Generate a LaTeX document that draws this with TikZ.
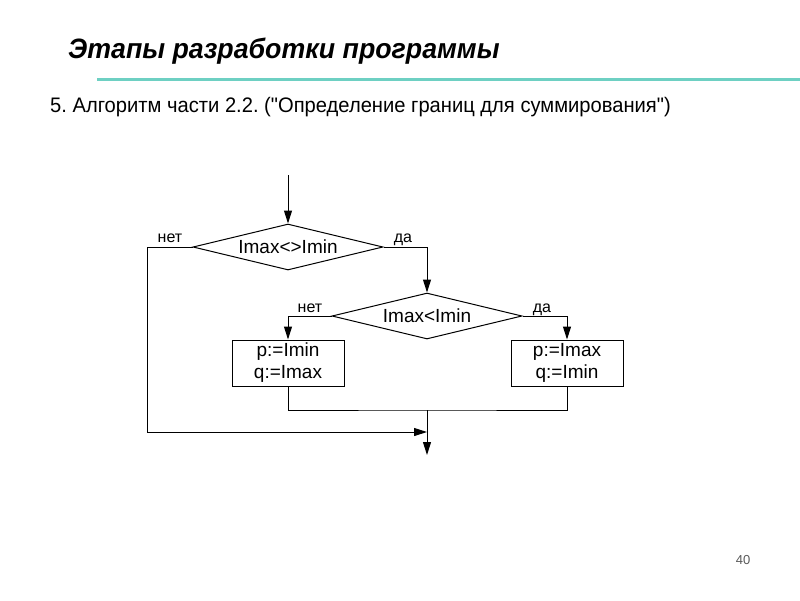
\documentclass[tikz,border=0pt]{standalone}
\usepackage{fontspec}
\setmainfont{Liberation Sans}
\newfontfamily\straightquotes{Liberation Sans}[Ligatures=TeXOff]
\usetikzlibrary{arrows.meta}
\usetikzlibrary{shapes.geometric}
\definecolor{ruleteal}{RGB}{110,208,195}
\frenchspacing
\tikzset{
	cond/.style={draw,diamond,aspect=4.1,inner sep=0pt,line width=1pt,minimum width=190pt,minimum height=46pt,font=\fontsize{19}{21}\selectfont},
	act/.style={draw,rectangle,line width=1pt,minimum width=112pt,minimum height=46pt,inner sep=2pt,align=center,font=\fontsize{19}{22}\selectfont},
	flow/.style={line width=1pt,-{Triangle[length=13pt,width=8pt]}},
	lbl/.style={anchor=base,inner sep=0pt,font=\fontsize{16}{18}\selectfont}
}

\begin{document}
\begin{tikzpicture}[x=1pt,y=-1pt]
	\useasboundingbox (0,0) rectangle (800,600);
	% heading
	\node[anchor=base west,inner sep=0pt,font=\bfseries\itshape\fontsize{28}{32}\selectfont] (title) at (68,58) {\scalebox{0.955}[1]{Этапы разработки программы}};
	\draw[ruleteal,line width=3pt] (97,79) -- (800,79);
	\node[anchor=base west,inner sep=0pt,font=\straightquotes\fontsize{21}{24}\selectfont] (subtitle) at (50,112) {\scalebox{0.96}[1]{5. Алгоритм части 2.2. ("Определение границ для суммирования")}};
	% flowchart
	\coordinate (start) at (288,175);
	\node[cond] (c1) at (288,247) {Imax<>Imin};
	\node[cond] (c2) at (427,316) {Imax<Imin};
	\node[act] (b1) at (288,363) {p:=Imin\\q:=Imax};
	\node[act] (b2) at (567,363) {p:=Imax\\q:=Imin};
	\coordinate (merge) at (427,410);
	\coordinate (in) at (427,432);
	\coordinate (end) at (427,455);
	\draw[flow] (start) -- (c1.north);
	\draw[flow] (c1.west) -- ++(-45,0) |- (in);
	\draw[flow] (c1.east) -| (c2.north);
	\draw[flow] (c2.west) -| (b1.north);
	\draw[flow] (c2.east) -| (b2.north);
	\draw[line width=1pt] (b1.south) |- (merge) -| (b2.south);
	\draw[flow] (merge) -- (end);
	\node[lbl] (no1) at (170,242) {нет};
	\node[lbl] (yes1) at (403,242) {да};
	\node[lbl] (no2) at (310,312) {нет};
	\node[lbl] (yes2) at (542,312) {да};
	\node[font=\fontsize{13}{15}\selectfont,text=gray!70!black] (page) at (743,560) {40};
\end{tikzpicture}
\end{document}
